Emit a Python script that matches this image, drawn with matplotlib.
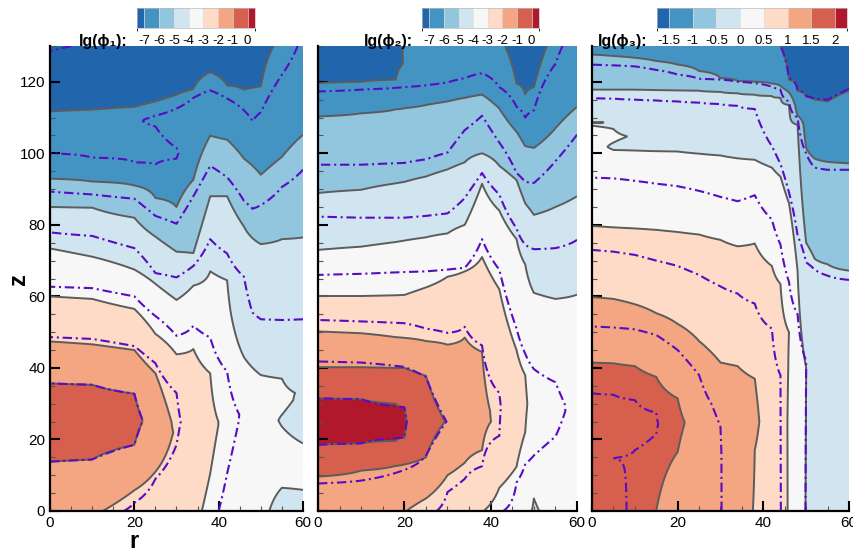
import numpy as np
import matplotlib
matplotlib.use("Agg")
import matplotlib.pyplot as plt
from matplotlib.colors import ListedColormap, BoundaryNorm
from matplotlib.cm import ScalarMappable
from matplotlib.ticker import MultipleLocator

plt.rcParams["font.family"] = ["Liberation Sans", "DejaVu Sans"]
plt.rcParams["axes.unicode_minus"] = False
plt.rcParams["contour.negative_linestyle"] = "solid"

# --- DATA ---
# each column: list of (z, value) knots along the column at radius r
band_colors = ["#2166ac", "#4393c3", "#92c5de", "#d1e5f0", "#f7f7f7",
               "#fddbc7", "#f4a582", "#d6604d", "#b2182b"]

levels_12 = [-7, -6, -5, -4, -3, -2, -1, 0]
levels_3 = [-1.5, -1, -0.5, 0, 0.5, 1, 1.5, 2]

# panel 1, lg(phi_1): filled field
p1_f_r = [0, 10, 20, 25, 30, 34, 38, 42, 46, 50, 55, 60]
p1_f_knots = [
    [(0, -1.6), (13.8, -1), (25, -0.4), (35.7, -1), (47.4, -2), (60, -3), (73.4, -4), (85, -5), (92.9, -6), (111.7, -7), (130, -7.6)],
    [(0, -1.9), (14.4, -1), (25, -0.5), (35.3, -1), (46.6, -2), (59.3, -3), (71.1, -4), (84.8, -5), (92.1, -6), (112.2, -7), (130, -7.6)],
    [(0, -2.3), (5.8, -2), (18.5, -1), (25.5, -0.8), (32.8, -1), (45, -2), (56.5, -3), (67.5, -4), (82, -5), (91, -6), (113, -7), (130, -7.55)],
    [(0, -2.6), (11, -2), (25, -1.3), (38.5, -2), (49.5, -3), (63.5, -4), (76.7, -5), (87.5, -6), (114.5, -7), (130, -7.5)],
    [(0, -2.6), (22, -2.1), (43.8, -3), (59, -4), (72.5, -5), (85, -6), (116.4, -7), (130, -7.4)],
    [(0, -2.85), (22, -2.5), (45.3, -3), (63, -4), (72.1, -5), (92.6, -6), (118, -7), (130, -7.3)],
    [(0, -3.15), (10.5, -3), (24, -2.85), (38.5, -3), (55, -3.6), (67, -4), (88, -5), (104.9, -6), (122.7, -7), (130, -7.2)],
    [(0, -3.45), (12, -3.3), (25, -3.15), (40, -3.7), (55, -3.9), (64.5, -4), (88, -5), (103.8, -6), (119, -7), (130, -7.3)],
    [(0, -3.6), (20, -3.55), (43, -4), (79.5, -5), (98.5, -6), (117.8, -7), (130, -7.3)],
    [(0, -3.9), (15, -3.8), (25, -3.75), (38, -4), (74.6, -5), (94, -6), (118.7, -7), (130, -7.15)],
    [(0, -4.15), (6.5, -4), (13, -3.9), (23.6, -4), (25.3, -4.05), (26.9, -4), (31, -3.95), (37, -4), (76, -5), (99, -6), (130, -6.9)],
    [(0, -4.2), (5.9, -4), (12, -3.9), (18.9, -4), (26, -4.1), (33, -4.02), (45, -4.3), (76.5, -5), (105.2, -6), (130, -6.6)],
]
# panel 1: dash-dot field
p1_g_r = [0, 10, 20, 25, 30, 34, 38, 42, 46, 48, 50, 55, 60]
p1_g_knots = [
    [(0, -1.7), (13.8, -1), (25, -0.45), (35.7, -1), (48.6, -2), (62.7, -3), (77.9, -4), (89.3, -5), (100, -6), (130, -7.05)],
    [(0, -1.85), (14.4, -1), (25, -0.5), (35.3, -1), (48.1, -2), (62.3, -3), (76.9, -4), (88.5, -5), (98.8, -6), (130, -6.95)],
    [(0, -2.05), (2.3, -2), (18.5, -1), (25.5, -0.8), (32.8, -1), (46.1, -2), (60, -3), (73.5, -4), (87.3, -5), (97.5, -6), (103, -6.1), (109.4, -6.03), (115, -6.2), (130, -6.9)],
    [(0, -2.3), (9, -2), (25, -1.3), (41.3, -2), (54.5, -3), (66.5, -4), (82.5, -5), (96.9, -6), (102, -6.1), (107.5, -6), (109, -5.95), (110.5, -6), (130, -6.7)],
    [(0, -2.5), (18.5, -2), (25, -1.9), (33, -2), (49, -3), (65.3, -4), (80.3, -5), (98.5, -6), (100, -6.05), (101.5, -6), (107, -5.85), (112.5, -6), (130, -6.6)],
    [(0, -2.7), (25, -2.3), (51.8, -3), (68.5, -4), (88, -5), (100, -5.6), (115.5, -6), (130, -6.55)],
    [(0, -2.9), (25, -2.6), (48.5, -3), (76, -4), (96.5, -5), (117.6, -6), (130, -6.5)],
    [(0, -3.1), (10.5, -3), (25, -2.85), (39, -3), (72, -4), (93.3, -5), (115.3, -6), (130, -6.55)],
    [(0, -3.3), (27, -3.05), (50, -3.6), (65.5, -4), (86.7, -5), (112, -6), (130, -6.6)],
    [(0, -3.4), (27, -3.2), (55.5, -4), (84.5, -5), (109, -6), (130, -6.6)],
    [(0, -3.5), (27, -3.3), (53.6, -4), (85.5, -5), (111.5, -6), (130, -6.5)],
    [(0, -3.6), (27, -3.4), (53.4, -4), (90.6, -5), (122, -6), (130, -6.3)],
    [(0, -3.7), (27, -3.5), (53.6, -4), (95.4, -5), (130, -5.9)],
]

# panel 2, lg(phi_2)
p2_f_r = [0, 10, 18, 20, 25, 30, 34, 38, 42, 46, 48, 50, 55, 60]
p2_f_knots = [
    [(0, -1.4), (9.6, -1), (18.5, 0), (25, 0.3), (31.5, 0), (40.2, -1), (50.2, -2), (60.1, -3), (73, -4), (88.9, -5), (110.3, -6), (119.6, -7), (130, -7.5)],
    [(0, -1.55), (11.3, -1), (18.9, 0), (25, 0.25), (31.3, 0), (40.2, -1), (49.7, -2), (60.1, -3), (73.9, -4), (89.8, -5), (111.2, -6), (120, -7), (130, -7.4)],
    [(0, -1.85), (12.6, -1), (19.6, 0), (25, 0.15), (30, 0), (40, -1), (48.6, -2), (60.3, -3), (75.2, -4), (91.6, -5), (112.3, -6), (120.6, -7), (130, -7.3)],
    [(0, -1.97), (13, -1), (20.5, 0), (25, 0.08), (29, 0), (40, -1), (48.4, -2), (60.4, -3), (75.6, -4), (92, -5), (112.6, -6), (125, -6.97), (130, -6.93)],
    [(0, -2.3), (3.5, -2), (15, -1), (25, -0.6), (37.8, -1), (47.5, -2), (62.5, -3), (76.5, -4), (93.5, -5), (113.5, -6), (130, -6.8)],
    [(0, -2.6), (10, -2), (25, -1.05), (46.5, -2), (65.5, -3), (77.6, -4), (95.5, -5), (114.5, -6), (130, -6.7)],
    [(0, -2.75), (13.5, -2), (27, -1.6), (48.5, -2), (67, -3), (80, -4), (97.5, -5), (115.5, -6), (130, -6.7)],
    [(0, -2.98), (17, -2), (28, -1.85), (44.5, -2), (71, -3), (91.5, -4), (100, -5), (116.4, -6), (130, -6.6)],
    [(0, -3.2), (6.5, -3), (25, -2.1), (62, -3), (84, -4), (96.5, -5), (112.5, -6), (130, -6.85)],
    [(0, -3.5), (12.4, -3), (30, -2.6), (45, -3), (76, -4), (92.5, -5), (106, -6), (119.5, -7), (130, -7.3)],
    [(0, -3.85), (15, -3.2), (22, -3), (30, -2.9), (38, -3), (50, -3.5), (69, -4), (86, -5), (102, -6), (116.5, -7), (130, -7.3)],
    [(0, -4.05), (3.5, -4), (20, -3.5), (30, -3.3), (45, -3.5), (61, -4), (82.8, -5), (101.5, -6), (118.5, -7), (130, -7.3)],
    [(0, -3.85), (20, -3.45), (40, -3.6), (59.3, -4), (85, -5), (107, -6), (130, -6.8)],
    [(0, -3.85), (20, -3.4), (40, -3.6), (60.5, -4), (88, -5), (113, -6), (130, -6.6)],
]
p2_g_r = [0, 10, 20, 25, 30, 34, 38, 42, 46, 48, 50, 55, 60]
p2_g_knots = [
    [(0, -1.3), (7.7, -1), (18.5, 0), (25, 0.3), (31.5, 0), (41.8, -1), (53.4, -2), (66, -3), (82.3, -4), (96.8, -5), (117.3, -6), (130, -6.95)],
    [(0, -1.4), (8.5, -1), (18.9, 0), (25, 0.25), (31.3, 0), (41.5, -1), (53, -2), (66.3, -3), (82, -4), (96.8, -5), (117.8, -6), (130, -6.9)],
    [(0, -1.7), (11.5, -1), (20.5, 0), (25, 0.08), (29, 0), (40.3, -1), (52.5, -2), (66.8, -3), (82, -4), (97.3, -5), (118.5, -6), (130, -6.7)],
    [(0, -1.9), (15.5, -1), (25, -0.6), (37.5, -1), (51, -2), (67, -3), (82.5, -4), (98.3, -5), (119, -6), (130, -6.6)],
    [(0, -2.1), (5.3, -2), (25, -1.02), (49.8, -2), (67.5, -3), (83.2, -4), (100.2, -5), (119.8, -6), (130, -6.5)],
    [(0, -2.4), (9, -2), (27, -1.6), (51.5, -2), (68, -3), (87.5, -4), (106.5, -5), (121, -6), (130, -6.5)],
    [(0, -2.6), (12.5, -2), (28, -1.8), (46.3, -2), (76, -3), (94.5, -4), (110.5, -5), (122.4, -6), (130, -6.4)],
    [(0, -2.97), (21, -2), (29, -1.95), (33, -2), (67.5, -3), (88.5, -4), (103, -5), (118.5, -6), (130, -6.5)],
    [(0, -3.1), (8, -3), (30, -2.5), (51, -3), (79, -4), (94.5, -5), (113, -6), (130, -6.6)],
    [(0, -3.2), (13, -3), (30, -2.7), (44, -3), (74.5, -4), (92, -5), (110, -6), (130, -6.5)],
    [(0, -3.25), (15.5, -3), (30, -2.8), (39.7, -3), (73.2, -4), (91.7, -5), (112, -6), (130, -6.4)],
    [(0, -3.3), (20.8, -3), (28, -2.9), (36, -3), (73.5, -4), (97.8, -5), (125, -6), (130, -6.1)],
    [(0, -3.35), (30, -3.1), (50, -3.4), (75.8, -4), (105.2, -5), (130, -5.8)],
]

# panel 3, lg(phi_3)
p3_r = [0, 5, 10, 15, 20, 25, 30, 34, 38, 42, 44, 46, 48, 50, 52, 55, 60]
p3_f_knots = [
    [(0, 1.75), (14, 1.85), (25, 1.9), (41.5, 1.5), (59.8, 1), (79.7, 0.5), (95, 0.12), (100, 0.06), (104, 0.04), (107.7, 0), (108.2, -0.01), (108.6, 0.006), (109, -0.01), (117.8, -0.5), (127.6, -1), (130, -1.1)],
    [(0, 1.72), (25, 1.88), (41.3, 1.5), (59.3, 1), (79.3, 0.5), (95, 0.1), (100.5, 0.01), (101.8, -0.02), (103, 0), (104.8, 0.02), (106.8, 0), (108.2, -0.01), (108.6, -0.004), (109, -0.01), (117.8, -0.5), (127.2, -1), (130, -1.1)],
    [(0, 1.65), (25, 1.8), (40.5, 1.5), (57.8, 1), (79, 0.5), (95, 0.08), (100.8, 0), (102.5, -0.04), (104.7, -0.01), (108, -0.1), (117.8, -0.5), (126.7, -1), (130, -1.12)],
    [(0, 1.5), (25, 1.65), (37.5, 1.5), (55.3, 1), (78.6, 0.5), (100.6, 0), (117.7, -0.5), (125.8, -1), (130, -1.15)],
    [(0, 1.3), (16.5, 1.5), (24.5, 1.55), (31.5, 1.5), (52.3, 1), (78, 0.5), (100.5, 0), (117.6, -0.5), (124.8, -1), (130, -1.18)],
    [(0, 1.15), (25, 1.4), (47.5, 1), (77.3, 0.5), (99.9, 0), (117.5, -0.5), (123, -1), (130, -1.2)],
    [(0, 1.12), (25, 1.25), (41.5, 1), (75.8, 0.5), (99.4, 0), (117.2, -0.5), (121, -1), (130, -1.25)],
    [(0, 1.08), (25, 1.18), (40.5, 1), (74, 0.5), (98.6, 0), (116.8, -0.5), (120.2, -1), (130, -1.3)],
    [(0, 0.99), (17, 1), (25, 1.08), (37, 1), (55, 0.7), (74.8, 0.5), (98.2, 0), (116.4, -0.5), (120, -1), (130, -1.35)],
    [(0, 0.8), (25, 0.78), (40, 0.75), (68.5, 0.5), (96, 0), (116, -0.5), (119.5, -1), (130, -1.42)],
    [(0, 0.6), (40, 0.58), (63.5, 0.5), (93.5, 0), (115.5, -0.5), (118.8, -1), (130, -1.5)],
    [(0, 0.48), (25, 0.48), (50, 0.5), (60, 0.4), (86, 0), (113.5, -0.5), (117, -1), (120.5, -1.5), (130, -1.7)],
    [(0, 0.12), (40, 0.12), (67, 0), (108, -0.5), (110.5, -1), (117.5, -1.5), (130, -1.75)],
    [(0, -0.01), (40, 0), (60, -0.2), (75, -0.5), (101.5, -1), (115.8, -1.5), (130, -1.75)],
    [(0, -0.15), (40, -0.2), (70.5, -0.5), (98.5, -1), (115, -1.5), (130, -1.75)],
    [(0, -0.25), (40, -0.3), (69, -0.5), (97.6, -1), (114.5, -1.5), (130, -1.8)],
    [(0, -0.3), (40, -0.35), (67.2, -0.5), (97.2, -1), (117.5, -1.5), (130, -1.7)],
]
p3_g_knots = [
    [(0, 1.6), (14.3, 1.5), (24, 1.62), (32.9, 1.5), (51.6, 1), (73, 0.5), (93.2, 0), (115.4, -0.5), (124.8, -1), (130, -1.5)],
    [(0, 1.58), (14.8, 1.5), (24, 1.6), (32.5, 1.5), (51.3, 1), (72.5, 0.5), (93, 0), (115.3, -0.5), (124.6, -1), (130, -1.4)],
    [(0, 1.45), (17, 1.5), (24, 1.56), (31, 1.5), (50.8, 1), (71.6, 0.5), (92.3, 0), (115, -0.5), (124.3, -1), (130, -1.3)],
    [(0, 1.35), (21.5, 1.5), (24.5, 1.51), (27.5, 1.5), (49.2, 1), (70, 0.5), (91.5, 0), (114.8, -0.5), (123.3, -1), (130, -1.3)],
    [(0, 1.25), (24, 1.4), (45, 1), (68.5, 0.5), (90.8, 0), (114.5, -0.5), (122, -1), (130, -1.3)],
    [(0, 1.1), (20, 1.15), (38, 1), (66, 0.5), (89.5, 0), (114.2, -0.5), (120.8, -1), (130, -1.3)],
    [(0, 1.01), (16, 1.01), (23.5, 1), (30, 0.95), (62.8, 0.5), (87.8, 0), (113.8, -0.5), (120.6, -1), (130, -1.3)],
    [(0, 0.85), (30, 0.8), (60.8, 0.5), (86.6, 0), (113.3, -0.5), (120, -1), (130, -1.35)],
    [(0, 0.75), (30, 0.7), (58, 0.5), (88.3, 0), (112.4, -0.5), (119.6, -1), (130, -1.4)],
    [(0, 0.58), (40, 0.56), (51, 0.5), (81.5, 0), (102, -0.5), (118.6, -1), (130, -1.45)],
    [(0, 0.51), (38, 0.5), (74.5, 0), (97, -0.5), (117.8, -1), (130, -1.5)],
    [(0, 0.3), (40, 0.25), (64, 0), (89, -0.5), (114.5, -1), (121, -1.5), (130, -1.7)],
    [(0, 0.12), (40, 0.1), (55, 0), (77, -0.5), (110, -1), (117.5, -1.5), (130, -1.75)],
    [(0, -0.01), (42, 0), (55, -0.2), (69.5, -0.5), (100, -1), (116, -1.5), (130, -1.75)],
    [(0, -0.15), (40, -0.2), (67.5, -0.5), (96, -1), (115.2, -1.5), (130, -1.75)],
    [(0, -0.25), (40, -0.3), (65.8, -0.5), (95.4, -1), (115, -1.5), (130, -1.8)],
    [(0, -0.3), (40, -0.35), (64.6, -0.5), (95.4, -1), (118, -1.5), (130, -1.7)],
]

labels = ["lg(\u03d5\u2081):", "lg(\u03d5\u2082):", "lg(\u03d5\u2083):"]

# --- FIGURE ---
zz = np.linspace(0, 130, 1041)


def build(r_list, knots):
    F = np.empty((zz.size, len(r_list)))
    for j, col in enumerate(knots):
        z, v = zip(*col)
        F[:, j] = np.interp(zz, z, v)
    return np.array(r_list, float), F


fig = plt.figure(figsize=(8.54, 5.54), dpi=100)

panels = [
    (p1_f_r, p1_f_knots, p1_g_r, p1_g_knots, levels_12),
    (p2_f_r, p2_f_knots, p2_g_r, p2_g_knots, levels_12),
    (p3_r, p3_f_knots, p3_r, p3_g_knots, levels_3),
]
ax_x = [50, 318, 592]
ax_w = [253, 259, 257]
cb_x = [137, 422, 657]
cb_w = [118, 117, 190]

cmap = ListedColormap(band_colors)
dashdot = (0, (4.5, 1.8, 1.0, 1.8))

for i, (fr, fk, gr, gk, lev) in enumerate(panels):
    ax = fig.add_axes([ax_x[i] / 854, 1 - 511 / 554, ax_w[i] / 854, 465 / 554])
    rf, F = build(fr, fk)
    rg, G = build(gr, gk)
    fill_lev = [-100] + lev + [100]
    ax.contourf(rf, zz, F, levels=fill_lev, colors=band_colors)
    ax.contour(rf, zz, F, levels=lev, colors="#5c5c5c", linewidths=1.4,
               linestyles="solid")
    ax.contour(rg, zz, G, levels=lev, colors="#5a0cc4", linewidths=1.5,
               linestyles=[dashdot])
    ax.set_xlim(0, 60)
    ax.set_ylim(0, 130)
    ax.set_xticks([0, 20, 40, 60])
    ax.set_yticks(range(0, 121, 20))
    ax.xaxis.set_minor_locator(MultipleLocator(5))
    ax.yaxis.set_minor_locator(MultipleLocator(5))
    ax.tick_params(which="major", direction="in", length=7, width=1.5,
                   labelsize=11, color="black")
    ax.tick_params(which="minor", direction="in", length=3.5, width=0.8,
                   color="#555555")
    if i > 0:
        ax.set_yticklabels([])
    for s in ["top", "right"]:
        ax.spines[s].set_visible(False)
    for s in ["left", "bottom"]:
        ax.spines[s].set_linewidth(1.6)

    # colorbar on top
    step = lev[1] - lev[0]
    bounds = [lev[0] - step / 2] + lev + [lev[-1] + step / 2]
    cax = fig.add_axes([cb_x[i] / 854, 1 - 28 / 554, cb_w[i] / 854, 20 / 554])
    norm = BoundaryNorm(bounds, cmap.N)
    cb = fig.colorbar(ScalarMappable(norm=norm, cmap=cmap), cax=cax,
                      orientation="horizontal", ticks=lev,
                      spacing="proportional", drawedges=True)
    cb.set_ticklabels(["%g" % v for v in lev])
    cb.outline.set_edgecolor("#bbbbbb")
    cb.outline.set_linewidth(0.5)
    cb.dividers.set_color("#dddddd")
    cb.dividers.set_linewidth(0.5)
    cax.tick_params(length=0, pad=5, labelsize=9.5)
    fig.text((cb_x[i] - 9) / 854, 1 - 46 / 554, labels[i], ha="right",
             va="baseline", fontsize=11.5, fontweight="bold")

fig.text(134 / 854, 1 - 542 / 554, "r", ha="center", va="center",
         fontsize=17, fontweight="bold")
fig.text(19 / 854, 1 - 279 / 554, "z", ha="center", va="center",
         fontsize=17, fontweight="bold", rotation=90)

fig.savefig("out.png", dpi=100)
